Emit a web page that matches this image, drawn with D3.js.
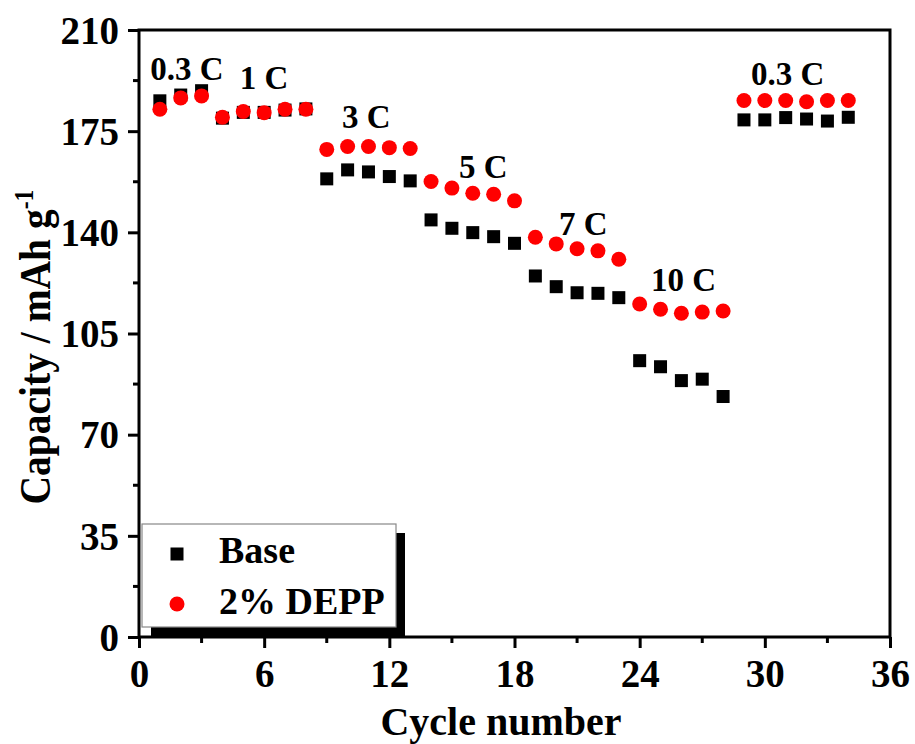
<!DOCTYPE html>
<html><head><meta charset="utf-8">
<script src="https://cdn.jsdelivr.net/npm/d3@7"></script>
<style>body{margin:0;background:#fff}svg{display:block}text{font-family:"Liberation Serif","Times New Roman",serif;font-weight:bold}</style>
</head><body><svg id="c" width="915" height="744"></svg>
<script>
const cycles = d3.range(1, 35);
const baseValues = [185.5,187.5,189,179.5,181.5,181.5,182.3,182.7,158.5,161.6,160.9,159.3,157.8,144.3,141.4,139.9,138.5,136.2,124.9,121.2,119.1,118.9,117.4,95.6,93.5,88.7,89.2,83.2,178.9,178.9,179.7,179.2,178.5,179.8];
const deppValues = [182.6,186.5,187.2,179.8,181.8,181.4,182.6,182.6,168.7,169.7,169.7,169.3,169,157.6,155.3,153.5,153.2,150.9,138.3,136,134.3,133.6,130.7,115.2,113.4,112,112.4,112.8,185.6,185.6,185.6,185.2,185.6,185.6];
const xTicks = [0,6,12,18,24,30,36];
const yTicks = [0,35,70,105,140,175,210];
const rateLabels = ["0.3 C","1 C","3 C","5 C","7 C","10 C","0.3 C"];
const rateLabelCycle = [2.3,6.0,10.9,16.5,21.3,26.1,31.1];
const rateLabelValue = [192.7,189.5,176,158.8,139,119.8,191];
const seriesNames = ["Base","2% DEPP"];

const svg = d3.select("#c");
const L=139,R=890,T=30,B=637;
const x = d3.scaleLinear().domain([0,36]).range([L,R]);
const y = d3.scaleLinear().domain([0,210]).range([B,T]);

// data
svg.append("g").selectAll("rect").data(cycles).join("rect")
  .attr("x",(d,i)=>x(d)-6.5).attr("y",(d,i)=>y(baseValues[i])-6.5)
  .attr("width",13).attr("height",13).attr("fill","#000");
svg.append("g").selectAll("circle").data(cycles).join("circle")
  .attr("cx",d=>x(d)).attr("cy",(d,i)=>y(deppValues[i])).attr("r",7.5).attr("fill","#ff0000");

// rate labels
svg.append("g").selectAll("text").data(rateLabels).join("text")
  .attr("x",(d,i)=>x(rateLabelCycle[i])).attr("y",(d,i)=>y(rateLabelValue[i]))
  .attr("text-anchor","middle").attr("font-size",33).text(d=>d);

// axes
const xAxis = d3.axisBottom(x).tickValues(xTicks).tickSize(11).tickPadding(12);
const gx = svg.append("g").attr("transform",`translate(0,${B})`).call(xAxis);
const yAxis = d3.axisLeft(y).tickValues(yTicks).tickSize(11).tickPadding(9);
const gy = svg.append("g").attr("transform",`translate(${L},0)`).call(yAxis);
[gx,gy].forEach(g=>{
  g.select(".domain").remove();
  g.selectAll(".tick line").attr("stroke","#000").attr("stroke-width",3);
  g.selectAll(".tick text").attr("font-size",39).attr("fill","#000")
   .style("font-family","'Liberation Serif',serif").style("font-weight","bold");
});
gx.selectAll(".tick text").attr("dy","0.7em");
gy.selectAll(".tick text").attr("dy","0.34em");
// minor ticks
const xMinor = d3.range(3,36,6), yMinor = d3.range(17.5,210,35);
svg.append("g").selectAll("line").data(xMinor).join("line")
  .attr("x1",d=>x(d)).attr("x2",d=>x(d)).attr("y1",B).attr("y2",B+6)
  .attr("stroke","#000").attr("stroke-width",3);
svg.append("g").selectAll("line").data(yMinor).join("line")
  .attr("y1",d=>y(d)).attr("y2",d=>y(d)).attr("x1",L).attr("x2",L-6)
  .attr("stroke","#000").attr("stroke-width",3);
// frame
svg.append("rect").attr("x",L).attr("y",T).attr("width",R-L).attr("height",B-T)
  .attr("fill","none").attr("stroke","#000").attr("stroke-width",3);

// legend
const lg = svg.append("g");
lg.append("rect").attr("x",151).attr("y",533).attr("width",254).attr("height",104).attr("fill","#000");
lg.append("rect").attr("x",142).attr("y",524).attr("width",254).attr("height",103)
  .attr("fill","#fff").attr("stroke","#888").attr("stroke-width",1.2);
lg.append("rect").attr("x",170.5).attr("y",547.5).attr("width",13).attr("height",13).attr("fill","#000");
lg.append("circle").attr("cx",177).attr("cy",604).attr("r",7.5).attr("fill","#ff0000");
lg.selectAll("text.l").data(seriesNames).join("text").attr("class","l")
  .attr("x",219).attr("y",(d,i)=>563+i*51).attr("font-size",38).text(d=>d);

// axis titles
svg.append("text").attr("x",501).attr("y",735).attr("text-anchor","middle")
  .attr("font-size",40).text("Cycle number");
const yt = svg.append("text").attr("font-size",45).attr("text-anchor","middle");
yt.append("tspan").text("Capacity / mAh g");
yt.append("tspan").attr("font-size",27).attr("dy",-17).text("-1");
const w = yt.node().getComputedTextLength();
const sx = 315 / w;
yt.attr("transform",`translate(50,347) rotate(-90) scale(${sx},1)`);
</script></body></html>
